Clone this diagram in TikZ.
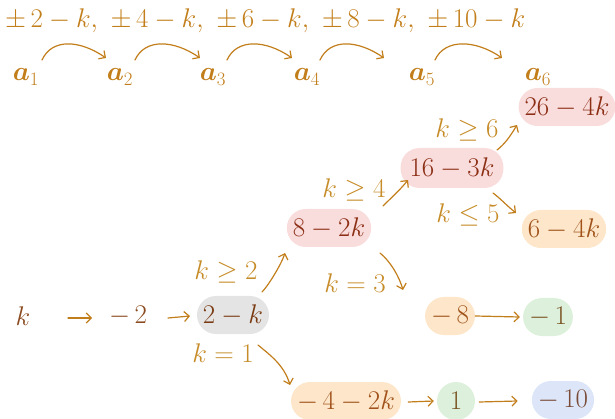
\RequirePackage{fix-cm}
\documentclass[tikz,border=0pt]{standalone}
\usepackage{amsmath,bm}
\usetikzlibrary{arrows.meta}
\definecolor{gold}{HTML}{C27E1A}
\definecolor{lab}{HTML}{C68C28}
\definecolor{tpink}{HTML}{8B2E14}
\definecolor{torange}{HTML}{A0521A}
\definecolor{tgreen}{HTML}{7A5424}
\definecolor{tblue}{HTML}{7A4A36}
\definecolor{tgray}{HTML}{7A3A12}
\definecolor{tplain}{HTML}{8A4A1E}
\definecolor{fpink}{HTML}{F9DCDC}
\definecolor{forange}{HTML}{FDE6C9}
\definecolor{fgreen}{HTML}{DDF0DB}
\definecolor{fblue}{HTML}{DCE6F8}
\definecolor{fgray}{HTML}{E4E4E4}
\newcommand{\um}{-\mkern3mu}
\begin{document}
\begin{tikzpicture}[x=1pt,y=-1pt,
  every node/.style={font=\fontsize{27}{32}\selectfont},
  box/.style={rectangle, rounded corners=19pt, minimum height=38pt, minimum width=38pt, inner xsep=6pt, inner ysep=0pt},
  pinkbox/.style={box, fill=fpink, text=tpink},
  orangebox/.style={box, fill=forange, text=torange},
  greenbox/.style={box, fill=fgreen, text=tgreen},
  bluebox/.style={box, fill=fblue, text=tblue},
  graybox/.style={box, fill=fgray, text=tgray},
  plain/.style={text=tplain},
  arr/.style={draw=gold, line width=1.2pt, line cap=round, -{Straight Barb[length=5pt,width=10pt]}},
  lbl/.style={text=lab},
  ai/.style={text=gold}]
\useasboundingbox (0,0) rectangle (615,419);

% header
\node[anchor=west, text=gold, inner sep=0pt] (top) at (5,21) {$\pm\,2-k,\ \pm\,4-k,\ \pm\,6-k,\ \pm\,8-k,\ \pm\,10-k$};
\node[ai] (a1) at (26,77) {$\bm{a}_1$};
\node[ai] (a2) at (120,77) {$\bm{a}_2$};
\node[ai] (a3) at (213,77) {$\bm{a}_3$};
\node[ai] (a4) at (307,77) {$\bm{a}_4$};
\node[ai] (a5) at (422,77) {$\bm{a}_5$};
\node[ai] (a6) at (538,77) {$\bm{a}_6$};
\draw[arr] ([shift={(16,-17)}]a1.center) .. controls +(10,-22) and +(-26,-18) .. ([shift={(-14,-19)}]a2.center);
\draw[arr] ([shift={(15,-17)}]a2.center) .. controls +(10,-22) and +(-26,-18) .. ([shift={(-13,-19)}]a3.center);
\draw[arr] ([shift={(14,-17)}]a3.center) .. controls +(10,-22) and +(-26,-18) .. ([shift={(-15,-19)}]a4.center);
\draw[arr] ([shift={(13,-17)}]a4.center) .. controls +(10,-22) and +(-26,-18) .. ([shift={(-38,-19)}]a5.center);
\draw[arr] ([shift={(13,-17)}]a5.center) .. controls +(10,-22) and +(-26,-18) .. ([shift={(-36,-19)}]a6.center);

% flow
\node[plain] (k) at (23,316) {$k$};
\node[plain] (m2) at (128,316) {$\um 2$};
\node[graybox] (n1) at (233,315) {$2-k$};
\node[pinkbox] (n2) at (329,228) {$8-2k$};
\node[pinkbox, minimum height=40pt, inner xsep=9pt] (n3) at (452,168) {$16-3k$};
\node[pinkbox] (n4) at (567,107) {$26-4k$};
\node[orangebox] (n5) at (564,229) {$6-4k$};
\node[orangebox] (n6) at (450,316) {$\um 8$};
\node[greenbox] (n7) at (548,317) {$\um 1$};
\node[orangebox] (n8) at (346,401) {$\um 4-2k$};
\node[greenbox] (n9) at (456,401) {$1$};
\node[bluebox] (n10) at (563,400) {$\um 10$};

\draw[arr] ([shift={(45,2)}]k.center) -- ([shift={(-36,2)}]m2.center);
\draw[arr] ([shift={(40,2)}]m2.center) -- ([shift={(-43,1)}]n1.center);
\draw[arr] ([shift={(29,-23)}]n1.center) .. controls +(6,-6) and +(-4,12) .. ([shift={(-44,25)}]n2.center);
\draw[arr] ([shift={(25,30)}]n1.center) .. controls +(12,10) and +(-6,-20) .. ([shift={(-56,-16)}]n8.center);
\draw[arr] ([shift={(54,-22)}]n2.center) .. controls +(8,-8) and +(-8,10) .. ([shift={(-44,12)}]n3.center);
\draw[arr] ([shift={(51,25)}]n2.center) .. controls +(10,8) and +(-4,-14) .. ([shift={(-47,-26)}]n6.center);
\draw[arr] ([shift={(45,-18)}]n3.center) .. controls +(8,-6) and +(-6,10) .. ([shift={(-50,18)}]n4.center);
\draw[arr] ([shift={(41,25)}]n3.center) .. controls +(8,6) and +(-10,-8) .. ([shift={(-48,-16)}]n5.center);
\draw[arr] (n6.east) -- ([shift={(-3,0)}]n7.west);
\draw[arr] ([shift={(7,1)}]n8.east) -- ([shift={(-3,0)}]n9.west);
\draw[arr] ([shift={(4,1)}]n9.east) -- ([shift={(-14,1)}]n10.west);

% labels
\node[lbl] (l1) at (226,272) {$k\geq 2$};
\node[lbl] (l2) at (223,353) {$k=1$};
\node[lbl] (l3) at (354,190) {$k\geq 4$};
\node[lbl] (l4) at (355,283) {$k=3$};
\node[lbl] (l5) at (467,130) {$k\geq 6$};
\node[lbl] (l6) at (468,215) {$k\leq 5$};
\end{tikzpicture}
\end{document}
